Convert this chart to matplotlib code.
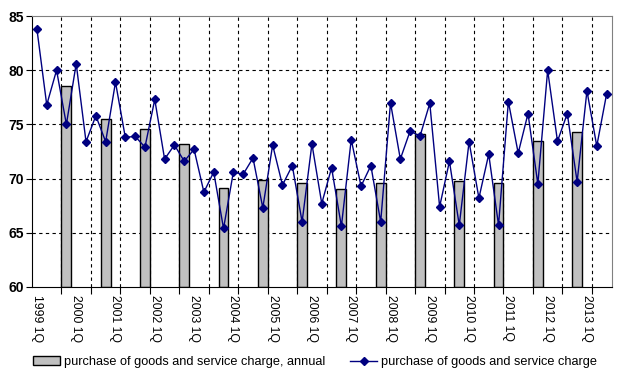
import numpy as np
import matplotlib; matplotlib.use('Agg')
import matplotlib.pyplot as plt
from matplotlib.lines import Line2D
from matplotlib.patches import Patch

plt.rcParams['font.family'] = ['Liberation Sans', 'DejaVu Sans']

# quarterly series, 1999 1Q .. 2013 3Q
quarterly = [83.8, 76.8, 80.0, 75.0, 80.6, 73.4, 75.8, 73.4, 78.9, 73.8,
             73.9, 72.9, 77.3, 71.8, 73.1, 71.6, 72.7, 68.75, 70.6, 65.4,
             70.6, 70.4, 71.9, 67.3, 73.1, 69.4, 71.2, 66.0, 73.2, 67.7,
             71.0, 65.6, 73.6, 69.3, 71.2, 66.0, 77.0, 71.8, 74.4, 73.9,
             76.95, 67.4, 71.6, 65.7, 73.4, 68.2, 72.25, 65.7, 77.1, 72.35,
             76.0, 69.5, 80.0, 73.45, 76.0, 69.7, 78.1, 73.0, 77.8]
# annual values, drawn at the 4Q of each year 1999..2012
annual_years = list(range(1999, 2013))
annual = [78.5, 75.5, 74.55, 73.2, 69.1, 69.85, 69.6, 69.0, 69.6, 74.1,
          69.8, 69.6, 73.45, 74.3]

n = len(quarterly)
x = np.arange(n)
labels = ["%d 1Q" % (1999 + i // 4) for i in range(0, n, 4)]
bar_pos = [(y - 1999) * 4 + 3 for y in annual_years]

fig = plt.figure(figsize=(6.23, 3.79), dpi=100)
ax = fig.add_axes([32/623, 1-287/379, (611.5-32)/623, (287-16)/379])

ax.bar(bar_pos, [v - 60 for v in annual], bottom=60, width=1.0,
       color='#c0c0c0', edgecolor='black', linewidth=1.0, zorder=2)
ax.plot(x, quarterly, color='#000080', lw=1.0, marker='D', ms=4.5,
        markerfacecolor='#000080', markeredgecolor='#000080', zorder=3)

ax.set_xlim(-0.5, n - 0.5)
ax.set_ylim(60, 85)
ax.set_yticks([60, 65, 70, 75, 80, 85])
ax.set_yticklabels(['60', '65', '70', '75', '80', '85'], fontsize=10, fontweight='bold')

# tick marks / gridlines every 3 quarters, labels every 4 quarters
grid_x = np.arange(2.5, n - 1, 3)
ax.set_xticks(grid_x)
ax.set_xticklabels([])
ax.set_xticks(np.arange(0, n, 4), minor=True)
ax.set_xticklabels(labels, minor=True, rotation=270, fontsize=8.8)
ax.tick_params(axis='x', which='major', length=5, direction='out')
ax.tick_params(axis='x', which='minor', length=0, pad=6)
ax.tick_params(axis='y', length=4, direction='out', pad=2)

for gx in grid_x:
    ax.axvline(gx, color='black', ls=(0, (3, 3)), lw=0.8, zorder=1)
for gy in [65, 70, 75, 80]:
    ax.axhline(gy, color='black', ls=(0, (3, 3)), lw=0.8, zorder=1)

ax.spines['top'].set_color('#808080')
ax.spines['right'].set_color('#808080')
ax.spines['left'].set_color('black')
ax.spines['bottom'].set_color('black')

handles = [Patch(facecolor='#c0c0c0', edgecolor='black'),
           Line2D([], [], color='#000080', lw=1.0, marker='D', ms=4)]
fig.legend(handles, ['purchase of goods and service charge, annual',
                     'purchase of goods and service charge'],
           loc='center', bbox_to_anchor=(315/623, 1-362/379), ncol=2, frameon=False,
           fontsize=9.2, handlelength=2.1, handletextpad=0.3, columnspacing=2.0)

fig.savefig('out.png', dpi=100)
